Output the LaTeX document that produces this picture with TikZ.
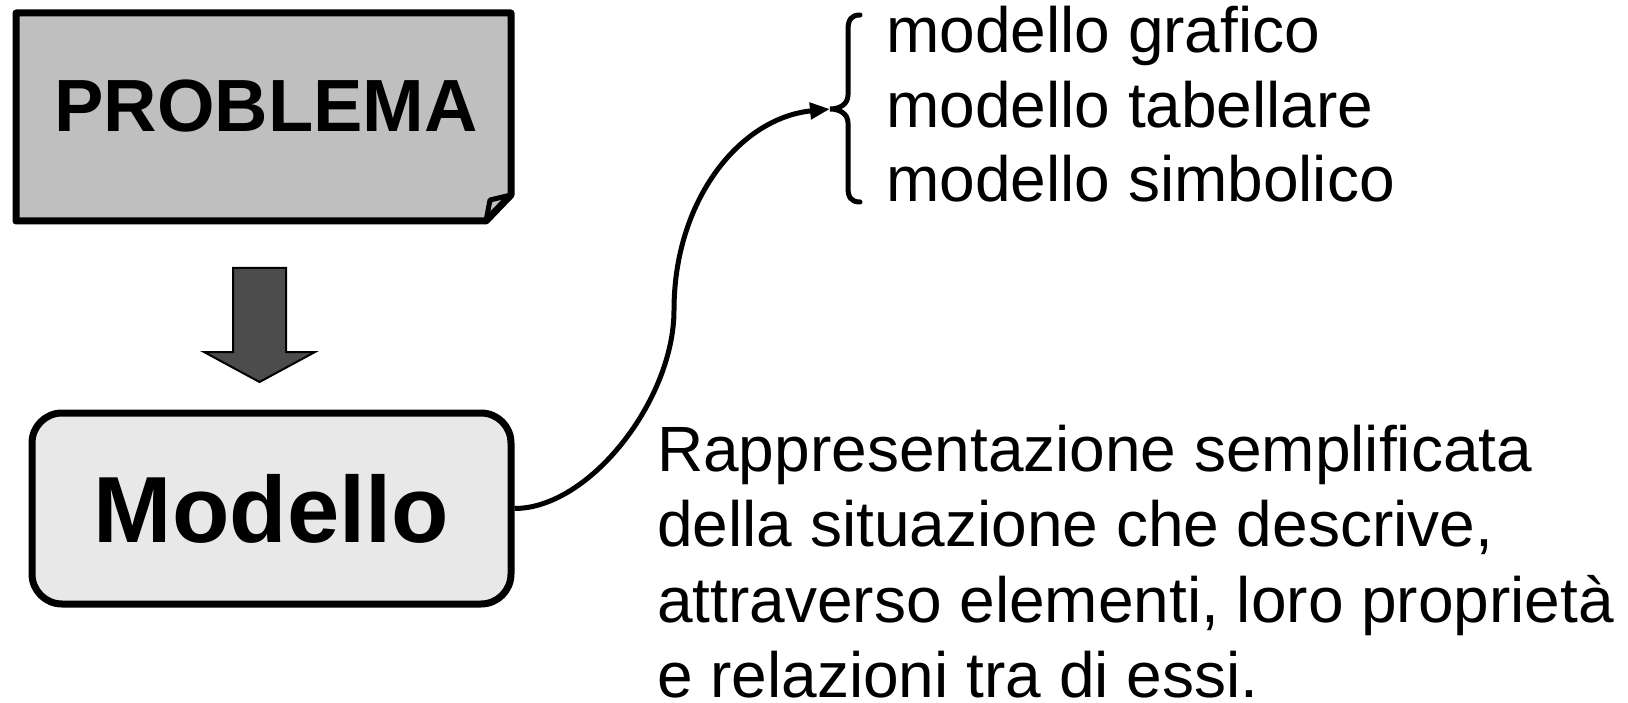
\documentclass[tikz,border=0pt]{standalone}
\usepackage{fontspec}
\setmainfont{Liberation Sans}
\usepackage{xcolor}
\usetikzlibrary{arrows.meta}

\definecolor{probgray}{gray}{0.75}
\definecolor{modgray}{gray}{0.91}
\definecolor{shaftgray}{gray}{0.30}

\begin{document}
\begin{tikzpicture}[x=1pt,y=-1pt,
    txt/.style={anchor=base west,inner sep=0pt,font=\fontsize{64}{75.5}\selectfont},
    thick line/.style={line width=7pt,line join=round}]
  \useasboundingbox (0,0) rectangle (1628,703);

  % sheet with the folded corner
  \draw[thick line,fill=probgray] (16,13) -- (511,13) -- (511,195)
    -- (486,221) -- (16,221) -- cycle;
  \draw[line width=5pt,line join=round] (511,195) -- (490,200) -- (486,221);
  \node (prob) at (266,132) [anchor=base,inner sep=0pt,
    font=\bfseries\fontsize{74}{80}\selectfont] {PROBLEMA};

  % big arrow down
  \draw[fill=shaftgray,line width=2pt] (233,268) -- (286,268) -- (286,352)
    -- (315,352) -- (259.5,382) -- (204,352) -- (233,352) -- cycle;

  \node (mod) at (271.5,508.5) [draw,thick line,fill=modgray,rounded corners=30pt,
    minimum width=479pt,minimum height=191pt,inner sep=0pt,
    font=\bfseries\fontsize{94}{100}\selectfont] {Modello};

  % brace
  \coordinate (bt) at (830,109);
  \draw[line width=5pt,line cap=round] (860,15) .. controls (851,15) and (848,20) .. (848,30)
    -- (848,95) .. controls (848,104) and (840,109) .. (bt)
    .. controls (840,109) and (848,114) .. (848,123)
    -- (848,188) .. controls (848,197) and (851,202) .. (860,202);

  \path (886,53)
    node (mg) [txt] {modello grafico} ++(0,74.5)
    node (mt) [txt] {modello tabellare} ++(0,74.5)
    node (ms) [txt] {modello simbolico};

  \path (657,471)
    node (d1) [txt] {Rappresentazione semplificata} ++(0,75.5)
    node (d2) [txt] {della situazione che descrive,} ++(0,75.5)
    node (d3) [txt] {attraverso elementi, loro proprietà} ++(0,75)
    node (d4) [txt] {e relazioni tra di essi.};

  \coordinate (turn) at (674,310);
  \draw[line width=5pt,-{Triangle[length=20pt,width=16pt]}] (mod.east)
    .. controls +(75,0) and +(0,90) .. (turn)
    .. controls +(0,-110) and +(-90,9) .. (bt);
\end{tikzpicture}
\end{document}
